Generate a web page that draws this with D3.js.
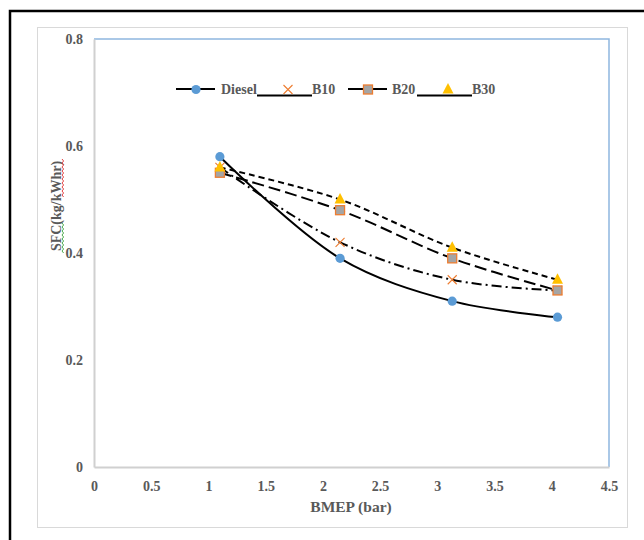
<!DOCTYPE html>
<html>
<head>
<meta charset="utf-8">
<script src="https://cdn.jsdelivr.net/npm/d3@7/dist/d3.min.js"></script>
<style>
  html, body { margin: 0; padding: 0; background: #fff; }
  svg { display: block; }
  text { font-family: "Liberation Serif", "Times New Roman", serif !important; font-weight: bold; }
</style>
</head>
<body>
<svg id="chart" width="644" height="540"></svg>
<script>
// BMEP load points (bar)
const bmep = [1.1, 2.15, 3.13, 4.05];
// Specific fuel consumption (kg/kWhr) per fuel blend
const sfcDiesel = [0.58, 0.39, 0.31, 0.28];
const sfcB10 = [0.56, 0.42, 0.35, 0.33];
const sfcB20 = [0.55, 0.48, 0.39, 0.33];
const sfcB30 = [0.56, 0.50, 0.41, 0.35];
const seriesNames = ["Diesel", "B10", "B20", "B30"];
const xTicks = [0, 0.5, 1, 1.5, 2, 2.5, 3, 3.5, 4, 4.5];
const yTicks = [0, 0.2, 0.4, 0.6, 0.8];

const svg = d3.select("#chart");
const textColor = "#595959";

// outer frame and chart area
svg.append("rect").attr("x", 10).attr("y", 11).attr("width", 660).attr("height", 560)
  .attr("fill", "none").attr("stroke", "#000").attr("stroke-width", 2.5);
svg.append("rect").attr("x", 37.5).attr("y", 27.5).attr("width", 590).attr("height", 500)
  .attr("fill", "#fff").attr("stroke", "#d9d9d9").attr("stroke-width", 1);

const plot = { left: 94, top: 39, right: 609, bottom: 467 };
const x = d3.scaleLinear().domain([0, 4.5]).range([plot.left, plot.right]);
const y = d3.scaleLinear().domain([0, 0.8]).range([plot.bottom, plot.top]);

// plot area border: blue top/right, grey axis lines left/bottom
svg.append("path")
  .attr("d", `M${plot.left},${plot.top}H${plot.right}V${plot.bottom}`)
  .attr("fill", "none").attr("stroke", "#8fb6e0").attr("stroke-width", 1.5);

const xAxis = d3.axisBottom(x).tickValues(xTicks).tickSize(0).tickPadding(14)
  .tickFormat(d => d3.format("")(d));
const gx = svg.append("g").attr("transform", `translate(0,${plot.bottom})`).call(xAxis);
gx.select(".domain").attr("stroke", "#d0d0d0").attr("stroke-width", 2);
gx.selectAll("text").attr("fill", textColor).attr("font-size", 14);

const yAxis = d3.axisLeft(y).tickValues(yTicks).tickSize(0).tickPadding(11)
  .tickFormat(d => d3.format("")(d));
const gy = svg.append("g").attr("transform", `translate(${plot.left},0)`).call(yAxis);
gy.select(".domain").attr("stroke", "#d0d0d0").attr("stroke-width", 2);
gy.selectAll("text").attr("fill", textColor).attr("font-size", 14);

// axis titles
svg.append("text").attr("x", 351).attr("y", 512).attr("text-anchor", "middle")
  .attr("font-size", 15.5).attr("fill", textColor).text("BMEP (bar)");
svg.append("text").attr("transform", "translate(61,206) rotate(-90)")
  .attr("text-anchor", "middle").attr("font-size", 14).attr("fill", textColor)
  .text("SFC(kg/kWhr)");

// spell-check squiggles under the y title
function squiggle(x0, y0, y1, color) {
  let d = `M${x0},${y0}`;
  let k = 0;
  for (let yy = y0 + 2; yy <= y1; yy += 2) {
    d += `L${x0 + (k % 2 === 0 ? 1.6 : 0)},${yy}`;
    k++;
  }
  svg.append("path").attr("d", d).attr("fill", "none")
    .attr("stroke", color).attr("stroke-width", 0.9);
}
squiggle(62, 159, 198, "#e03030");
squiggle(62, 223, 254, "#3aa23a");

// series styling
const series = [
  { name: seriesNames[0], values: sfcDiesel, dash: null, marker: "circle" },
  { name: seriesNames[1], values: sfcB10, dash: "10,4,2,4", marker: "cross" },
  { name: seriesNames[2], values: sfcB20, dash: "12,5", marker: "square" },
  { name: seriesNames[3], values: sfcB30, dash: "6,4", marker: "triangle" }
];

const line = d3.line().x(d => x(d[0])).y(d => y(d[1])).curve(d3.curveCatmullRom.alpha(0.5));

function drawMarker(g, type, cx, cy) {
  if (type === "circle") {
    g.append("circle").attr("cx", cx).attr("cy", cy).attr("r", 4.6).attr("fill", "#5b9bd5");
  } else if (type === "cross") {
    const s = 4.5;
    g.append("path").attr("d", `M${cx - s},${cy - s}L${cx + s},${cy + s}M${cx - s},${cy + s}L${cx + s},${cy - s}`)
      .attr("stroke", "#ed7d31").attr("stroke-width", 1.1).attr("fill", "none");
  } else if (type === "square") {
    g.append("rect").attr("x", cx - 4.5).attr("y", cy - 4.5).attr("width", 9).attr("height", 9)
      .attr("fill", "#a5a5a5").attr("stroke", "#ed7d31").attr("stroke-width", 1.3);
  } else if (type === "triangle") {
    g.append("path").attr("d", `M${cx},${cy - 6.5}L${cx + 5.5},${cy + 4}L${cx - 5.5},${cy + 4}Z`)
      .attr("fill", "#ffc000");
  }
}

series.forEach(s => {
  const g = svg.append("g");
  const pts = bmep.map((b, i) => [b, s.values[i]]);
  g.append("path").attr("d", line(pts)).attr("fill", "none")
    .attr("stroke", "#000").attr("stroke-width", 2)
    .attr("stroke-dasharray", s.dash);
  pts.forEach(p => drawMarker(g, s.marker, x(p[0]), y(p[1])));
});

// legend
const lg = svg.append("g");
const legendItems = [
  { lineX: [176, 215], lineY: 89, mx: 196, tx: 221 },
  { lineX: [257, 312], lineY: 95.5, mx: 288, tx: 312 },
  { lineX: [348, 387], lineY: 89, mx: 368, tx: 392 },
  { lineX: [417, 472], lineY: 95.5, mx: 448, tx: 472 }
];
legendItems.forEach((it, i) => {
  lg.append("line").attr("x1", it.lineX[0]).attr("x2", it.lineX[1])
    .attr("y1", it.lineY).attr("y2", it.lineY)
    .attr("stroke", "#000").attr("stroke-width", 2);
  drawMarker(lg, series[i].marker, it.mx, 89.5);
  lg.append("text").attr("x", it.tx).attr("y", 94).attr("font-size", 14)
    .attr("fill", textColor).text(series[i].name);
});
</script>
</body>
</html>
